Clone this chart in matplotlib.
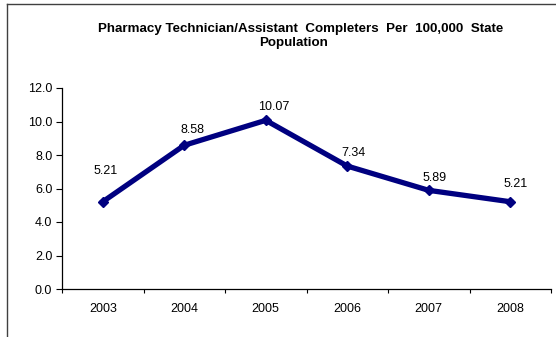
import matplotlib
matplotlib.use("Agg")
import matplotlib.pyplot as plt
from matplotlib.lines import Line2D

years = ["2003", "2004", "2005", "2006", "2007", "2008"]
completers = [5.21, 8.58, 10.07, 7.34, 5.89, 5.21]
# label offsets in pixels (dx, dy) from each point
label_offsets = [(3, 31), (8, 15), (8, 13), (6, 13), (6, 12), (5, 18)]
title_line1 = "Pharmacy Technician/Assistant  Completers  Per  100,000  State"
title_line2 = "Population"

plt.rcParams["font.family"] = ["Liberation Sans", "DejaVu Sans"]

fig = plt.figure(figsize=(5.56, 3.37), dpi=100)
ax = fig.add_axes([62 / 556, 1 - 289 / 337, 489 / 556, 201 / 337])

xs = list(range(len(years)))
ax.plot(xs, completers, color="#000080", linewidth=3.8, marker="D",
        markersize=5, solid_joinstyle="miter")

for x, v, (dx, dy) in zip(xs, completers, label_offsets):
    ax.annotate(f"{v:.2f}", (x, v), xytext=(dx, dy), textcoords="offset pixels",
                ha="center", va="center", fontsize=9)

ax.set_xlim(-0.5, len(years) - 0.5)
ax.set_ylim(0, 12)
ax.set_yticks([0, 2, 4, 6, 8, 10, 12])
ax.set_yticklabels([f"{t:.1f}" for t in [0, 2, 4, 6, 8, 10, 12]], fontsize=9)
ax.set_xticks(xs)
ax.set_xticklabels(years, fontsize=9)
ax.tick_params(axis="x", which="major", length=0, pad=10)
ax.set_xticks([i - 0.5 for i in range(len(years) + 1)], minor=True)
ax.tick_params(axis="x", which="minor", length=3, width=0.8, direction="out")
ax.tick_params(axis="y", length=4, width=0.8, direction="out", pad=3)

for s in ["top", "right"]:
    ax.spines[s].set_visible(False)
for s in ["left", "bottom"]:
    ax.spines[s].set_linewidth(0.9)

fig.text(301 / 556, 1 - 29 / 337, title_line1, ha="center", va="center",
         fontsize=9.6, fontweight="bold")
fig.text(294 / 556, 1 - 43 / 337, title_line2, ha="center", va="center",
         fontsize=9.6, fontweight="bold")

# outer frame (top and left edges)
fig.add_artist(Line2D([7 / 556, 1], [1 - 4 / 337, 1 - 4 / 337], transform=fig.transFigure,
                      color="#404040", linewidth=1.0))
fig.add_artist(Line2D([7 / 556, 7 / 556], [0, 1 - 4 / 337], transform=fig.transFigure,
                      color="#404040", linewidth=1.0))

fig.savefig("out.png", dpi=100)
